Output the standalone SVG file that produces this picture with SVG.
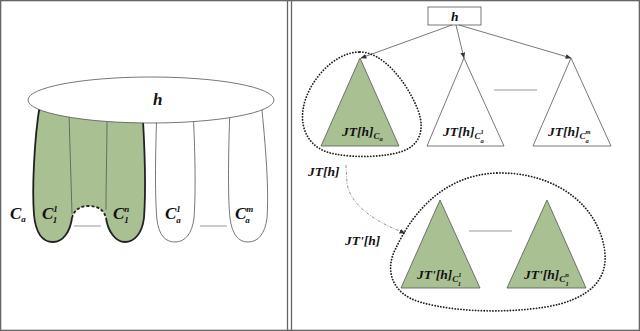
<svg xmlns="http://www.w3.org/2000/svg" width="640" height="331" viewBox="0 0 640 331">
<style>
.frame{fill:none;stroke:#666;stroke-width:1.3}
.thin{fill:#fff;stroke:#555;stroke-width:0.8}
.green{fill:#a9c093;stroke:none}
.gtri{fill:#a9c093;stroke:#555;stroke-width:0.8}
.outl{fill:none;stroke:#222;stroke-width:1.8}
.inner{fill:none;stroke:#555;stroke-width:0.8}
.dash{fill:none;stroke:#999;stroke-width:1}
.dots{fill:none;stroke:#222;stroke-width:1.8;stroke-linecap:round;stroke-dasharray:0.1 2.8}
.edge{fill:none;stroke:#555;stroke-width:0.8}
.dd{fill:none;stroke:#888;stroke-width:0.9;stroke-dasharray:3 1.5 0.8 1.5}
text{font-family:"Liberation Serif","DejaVu Serif",serif;font-style:italic;font-weight:bold;fill:#111}
.big{font-size:17px}
.lb{font-size:13.5px}
.s1{font-size:9px}
.s2{font-size:6.5px}
</style>
<defs>
<marker id="ah" viewBox="0 0 10 10" refX="9" refY="5" markerWidth="6" markerHeight="6" orient="auto-start-reverse" markerUnits="userSpaceOnUse">
<path d="M0,1 L10,5 L0,9 Z" fill="#333"/>
</marker>
</defs>

<rect class="frame" x="0.65" y="0.65" width="638.7" height="329.7"/>
<line class="frame" x1="287.5" y1="0" x2="287.5" y2="331"/>
<line class="frame" x1="291.5" y1="0" x2="291.5" y2="331"/>

<!-- Left panel -->
<g id="cluster-Ca">
<path class="green" d="M40,104 C34,140 32,190 34,215 C36,235 44,242 53,242 C63,242 70,232 72,218 C74,210 80,206 89,206 C98,206 104,210 106,218 C108,232 116,242 125,242 C134,242 142,234 144,218 C146,190 145,150 142,104 Z"/>
<path class="inner" d="M69,112 C70,150 71,180 72,214"/>
<path class="inner" d="M107,114 C107,150 106,180 106,210"/>
<path class="outl" d="M40,104 C34,140 32,190 34,215 C36,235 44,242 53,242 C63,242 70,232 72,218"/>
<path class="outl" stroke-dasharray="3 2" d="M72,218 C74,210 80,206 89,206 C98,206 104,210 106,218"/>
<path class="outl" d="M106,218 C108,232 116,242 125,242 C134,242 142,234 144,218 C146,190 145,150 142,104"/>
<line class="dash" x1="74" y1="226" x2="101" y2="226"/>
</g>
<g id="lobe-Ca1">
<path class="thin" d="M157,108 C155,160 155,200 157,220 C159,235 165,242 175,242 C185,242 192,234 194,218 C196,190 195,150 193,108"/>
</g>
<g id="lobe-Cam">
<path class="thin" d="M230,108 C228,160 228,200 230,218 C232,234 238,242 248,242 C258,242 265,234 267,218 C269,190 266,150 261,100"/>
<line class="dash" x1="200" y1="226" x2="227" y2="226"/>
</g>
<g id="ellipse-h">
<ellipse class="thin" cx="151" cy="100" rx="123" ry="23"/>
<text class="big" x="153" y="105">h</text>
</g>
<g id="left-labels">
<text class="big" x="10" y="219">C<tspan class="s1" dy="3">a</tspan></text>
<text class="big" x="42" y="219">C<tspan class="s1" dy="-7">1</tspan><tspan class="s1" dx="-4.5" dy="11">1</tspan></text>
<text class="big" x="113" y="219">C<tspan class="s1" dy="-7">n</tspan><tspan class="s1" dx="-5" dy="11">1</tspan></text>
<text class="big" x="165" y="219">C<tspan class="s1" dy="-7">1</tspan><tspan class="s1" dx="-4.5" dy="11">a</tspan></text>
<text class="big" x="235" y="219">C<tspan class="s1" dy="-7">m</tspan><tspan class="s1" dx="-8" dy="11">a</tspan></text>
</g>

<!-- Right panel -->
<g id="node-h">
<rect class="thin" x="428" y="7" width="53" height="18"/>
<text class="lb" x="451" y="21">h</text>
</g>
<g id="connectors">
<line class="edge" x1="452" y1="25" x2="361" y2="58" marker-end="url(#ah)"/>
<line class="edge" x1="456" y1="25" x2="464" y2="58" marker-end="url(#ah)"/>
<line class="edge" x1="459" y1="25" x2="571" y2="58" marker-end="url(#ah)"/>
<path class="dd" d="M346,165 L347,183 C350,205 375,222 405,233" marker-end="url(#ah)"/>
</g>
<g id="tree-Ca">
<polygon class="gtri" points="360,58 321,146 399,146"/>
<text class="lb" x="342" y="136">JT[h]<tspan class="s1" dy="3">C</tspan><tspan class="s2" dy="1.5">a</tspan></text>
</g>
<g id="tree-Ca1">
<polygon class="thin" points="464,58 427,146 504,146"/>
<text class="lb" x="443" y="136">JT[h]<tspan class="s1" dy="3">C</tspan><tspan class="s2" dy="-5">1</tspan><tspan class="s2" dx="-3.3" dy="8.5">a</tspan></text>
</g>
<line class="dash" x1="494" y1="90" x2="537" y2="90"/>
<g id="tree-Cam">
<polygon class="thin" points="571,58 533,146 611,146"/>
<text class="lb" x="548" y="136">JT[h]<tspan class="s1" dy="3">C</tspan><tspan class="s2" dy="-5">m</tspan><tspan class="s2" dx="-5.2" dy="8.5">a</tspan></text>
</g>
<g id="group-JT">
<path class="dots" d="M360,52 C382,52 406,80 418,110 C426,132 418,147 400,152 C385,157 355,158 335,154 C310,150 300,130 303,110 C306,85 332,52 360,52 Z"/>
<text class="lb" x="308" y="176">JT[h]</text>
</g>
<g id="group-JTp">
<path class="dots" d="M497,173 C545,172 587,195 601,235 C612,268 602,292 560,304 C525,313 460,314 420,302 C392,294 384,270 396,248 C410,218 440,175 497,173 Z"/>
<text class="lb" x="345" y="245">JT'[h]</text>
</g>
<g id="tree-C11">
<polygon class="gtri" points="440,200 401,288 480,288"/>
<text class="lb" x="417" y="279">JT'[h]<tspan class="s1" dy="3">C</tspan><tspan class="s2" dy="-5">1</tspan><tspan class="s2" dx="-3.3" dy="8.5">1</tspan></text>
</g>
<line class="dash" x1="469" y1="231" x2="512" y2="231"/>
<g id="tree-C1n">
<polygon class="gtri" points="547,200 507,288 586,288"/>
<text class="lb" x="524" y="279">JT'[h]<tspan class="s1" dy="3">C</tspan><tspan class="s2" dy="-5">n</tspan><tspan class="s2" dx="-3.3" dy="8.5">1</tspan></text>
</g>
</svg>
